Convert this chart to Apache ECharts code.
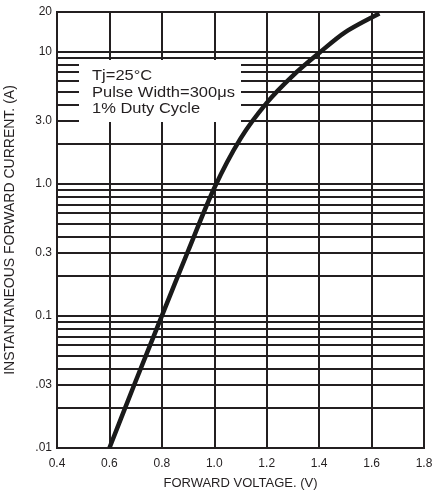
<!DOCTYPE html>
<html>
<head>
<meta charset="utf-8">
<script src="https://cdn.jsdelivr.net/npm/echarts@6/dist/echarts.min.js"></script>
<style>
  html, body { margin: 0; padding: 0; background: #fff; }
  #chart { width: 435px; height: 495px; }
</style>
</head>
<body>
<div id="chart"></div>
<script>
// forward voltage (V) vs instantaneous forward current (A)
var voltage = [0.6, 0.7, 0.8, 0.9, 1.0, 1.1, 1.2, 1.3, 1.4, 1.5, 1.63];
var current = [0.01, 0.032, 0.1, 0.31, 0.93, 2.2, 4.1, 6.6, 9.8, 14.1, 19.5];

var yTickValues = [0.01, 0.03, 0.1, 0.3, 1, 3, 10, 20];
var yTickLabels = ['.01', '.03', '0.1', '0.3', '1.0', '3.0', '10', '20'];
var gridValues = [0.02, 0.03, 0.04, 0.05, 0.06, 0.07, 0.08, 0.09, 0.1,
                  0.2, 0.3, 0.4, 0.5, 0.6, 0.7, 0.8, 0.9, 1,
                  2, 3, 4, 5, 6, 7, 8, 9, 10];
var noteLines = ['Tj=25°C', 'Pulse Width=300μs', '1% Duty Cycle'];

var font = 'Liberation Sans, Arial, sans-serif';
var ink = '#231f20';

var chart = echarts.init(document.getElementById('chart'));

chart.setOption({
    animation: false,
    backgroundColor: '#fff',
    grid: {
        left: 57, right: 11, top: 12, bottom: 47,
        outerBoundsMode: 'none',
        containLabel: false,
        show: true,
        borderColor: ink,
        borderWidth: 2
    },
    xAxis: {
        type: 'value',
        min: 0.4, max: 1.8, interval: 0.2,
        name: 'FORWARD VOLTAGE. (V)',
        nameLocation: 'middle',
        nameGap: 29,
        nameTextStyle: { fontFamily: font, fontSize: 13, color: ink },
        axisLine: { show: true, lineStyle: { color: ink, width: 2 } },
        axisTick: { show: false },
        axisLabel: {
            fontFamily: font, fontSize: 12, color: ink, margin: 10,
            formatter: function (v) { return v.toFixed(1); }
        },
        splitLine: { show: true, lineStyle: { color: ink, width: 2 } }
    },
    yAxis: {
        type: 'log',
        min: 0.01, max: 20,
        name: 'INSTANTANEOUS FORWARD CURRENT. (A)',
        nameLocation: 'middle',
        nameGap: 40,
        nameTextStyle: { fontFamily: font, fontSize: 14, color: ink },
        axisLine: { show: true, lineStyle: { color: ink, width: 2 } },
        axisTick: { show: false },
        axisLabel: {
            fontFamily: font, fontSize: 12, color: ink, margin: 5,
            customValues: yTickValues,
            formatter: function (v) {
                var best = 0;
                for (var i = 0; i < yTickValues.length; i++) {
                    if (Math.abs(Math.log(yTickValues[i] / v)) < Math.abs(Math.log(yTickValues[best] / v))) best = i;
                }
                return yTickLabels[best];
            }
        },
        splitLine: { show: false }
    },
    series: [
        {
            type: 'line',
            data: voltage.map(function (v, i) { return [v, current[i]]; }),
            smooth: 0.3,
            showSymbol: false,
            lineStyle: { color: '#1a1a1a', width: 4.5 },
            z: 5,
            markLine: {
                silent: true,
                symbol: 'none',
                label: { show: false },
                lineStyle: { type: 'solid', color: ink, width: 2 },
                data: gridValues.map(function (g) { return { yAxis: g }; }),
                z: 1
            }
        }
    ],
    graphic: [
        {
            type: 'rect',
            z: 100,
            shape: { x: 79, y: 60, width: 162, height: 62 },
            style: { fill: '#fff' }
        },
        {
            type: 'text',
            z: 101,
            x: 92, y: 68,
            scaleX: 1.1,
            style: {
                text: noteLines.join('\n'),
                fontFamily: font,
                fontSize: 15,
                lineHeight: 16.5,
                fill: ink
            }
        }
    ]
});
</script>
</body>
</html>
